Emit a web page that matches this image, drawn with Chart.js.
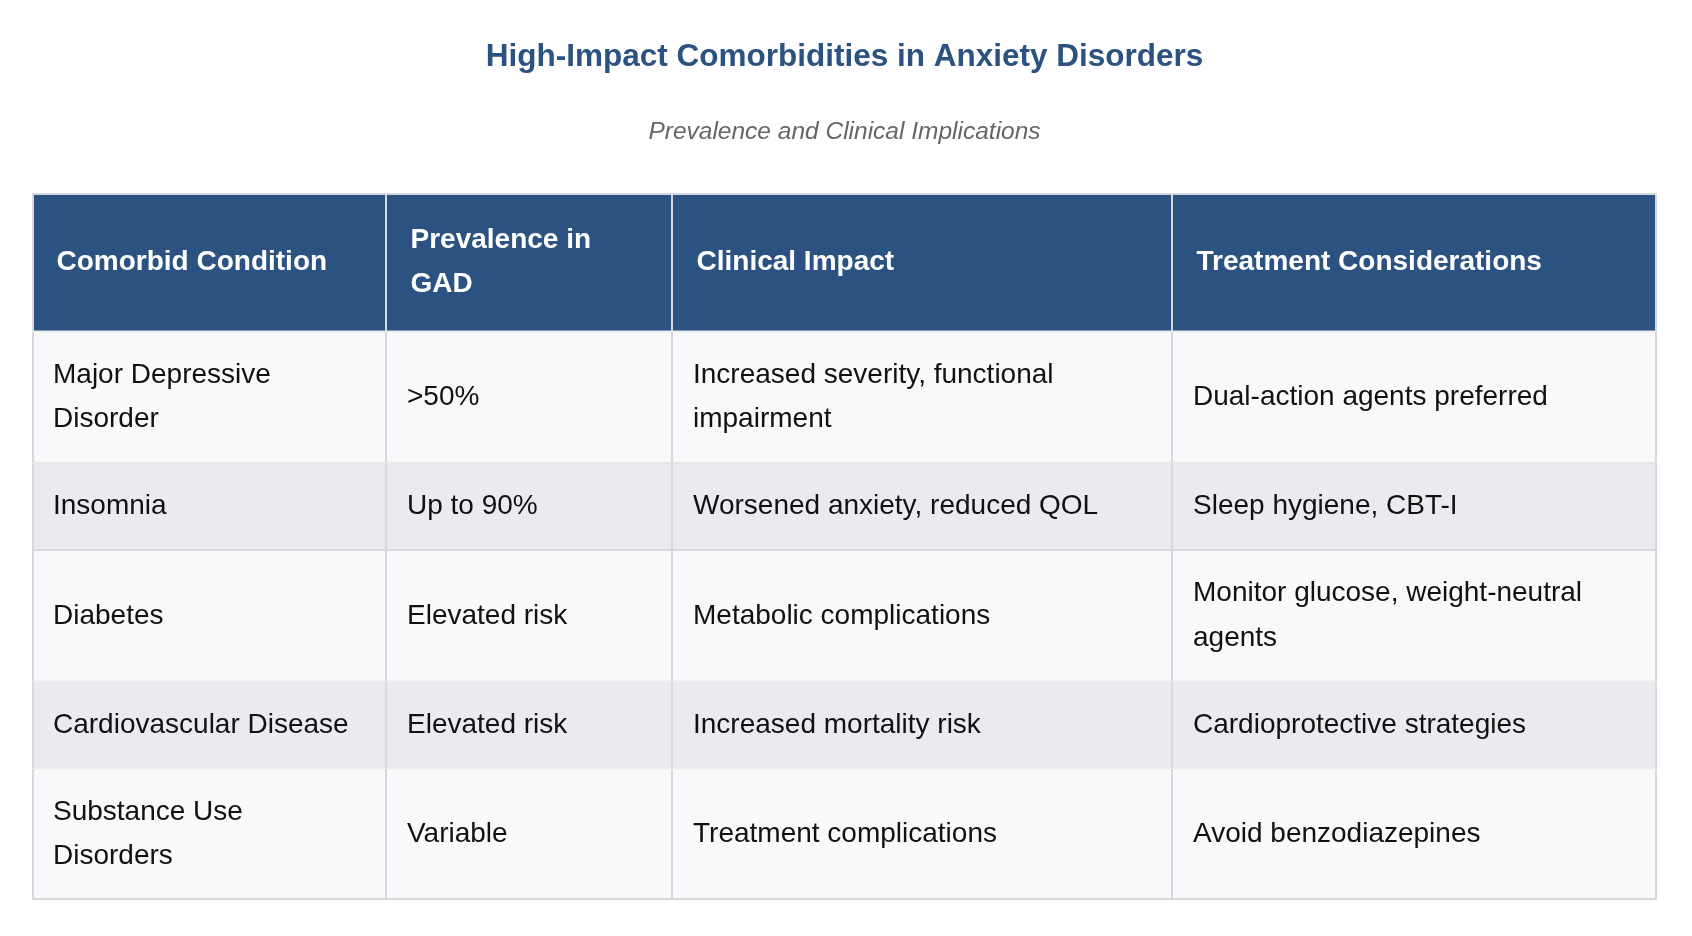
<!DOCTYPE html>
<html>
<head>
<meta charset="utf-8">
<title>High-Impact Comorbidities in Anxiety Disorders</title>
<script src="https://cdn.jsdelivr.net/npm/chart.js@4.4.1/dist/chart.umd.min.js"></script>
<style>
    html, body { margin: 0; padding: 0; background: #ffffff; }
    #wrap { width: 1692px; height: 936px; position: relative; }
</style>
</head>
<body>
<div id="wrap"><canvas id="comorbidityTable"></canvas></div>
<script>
// ==========================================
// Table content
// ==========================================
const headers = ['Comorbid Condition', 'Prevalence in GAD', 'Clinical Impact', 'Treatment Considerations'];
const conditions = ['Major Depressive Disorder', 'Insomnia', 'Diabetes', 'Cardiovascular Disease', 'Substance Use Disorders'];
const prevalence = ['>50%', 'Up to 90%', 'Elevated risk', 'Elevated risk', 'Variable'];
const clinicalImpact = [
    'Increased severity, functional impairment',
    'Worsened anxiety, reduced QOL',
    'Metabolic complications',
    'Increased mortality risk',
    'Treatment complications'
];
const treatment = [
    'Dual-action agents preferred',
    'Sleep hygiene, CBT-I',
    'Monitor glucose, weight-neutral agents',
    'Cardioprotective strategies',
    'Avoid benzodiazepines'
];

// ==========================================
// Layout / style
// ==========================================
const FONT = "'Liberation Sans', Arial, Helvetica, sans-serif";
const COL_WIDTHS = [354, 286, 500, 485];
const BODY_SIZE = 28;
const LINE_H = 44.6;
const HEAD_PAD = 24.5;
const CELL_PAD = 21;
const HEAD_BG = '#2c5282';
const ODD_BG = '#f7f9fb';
const EVEN_BG = '#e9ebef';
const GRID_COLOR = '#d6d8dc';

const rows = [headers].concat(conditions.map((c, i) => [c, prevalence[i], clinicalImpact[i], treatment[i]]));

const colEdges = [0];
COL_WIDTHS.forEach(w => colEdges.push(colEdges[colEdges.length - 1] + w));

function cellFont(r) {
    return (r === 0 ? 'bold ' : '') + BODY_SIZE + 'px ' + FONT;
}

// Wrap text the way a table cell would
const measureCtx = document.createElement('canvas').getContext('2d');
function wrapText(text, font, maxWidth) {
    measureCtx.font = font;
    const words = text.split(' ');
    const lines = [];
    let line = '';
    words.forEach(w => {
        const test = line ? line + ' ' + w : w;
        if (line && measureCtx.measureText(test).width > maxWidth) {
            lines.push(line);
            line = w;
        } else {
            line = test;
        }
    });
    if (line) lines.push(line);
    return lines;
}

const cellLines = rows.map((cells, r) => {
    const pad = r === 0 ? HEAD_PAD : CELL_PAD;
    return cells.map((txt, c) => wrapText(txt, cellFont(r), COL_WIDTHS[c] - 2 * pad));
});

// Row extents on the y scale
const rowHeights = cellLines.map((lines, r) => {
    const pad = r === 0 ? HEAD_PAD : CELL_PAD;
    const n = Math.max(...lines.map(l => l.length));
    return n * LINE_H + 2 * pad;
});
const rowCenters = [];
let acc = 0;
rowHeights.forEach(h => { rowCenters.push(acc + h / 2); acc += h; });
const tableHeight = acc;

// ==========================================
// Cell text plugin
// ==========================================
const cellTextPlugin = {
    id: 'cellText',
    afterDatasetsDraw(chart) {
        const ctx = chart.ctx;
        const yScale = chart.scales.y;
        const unitPx = Math.abs(yScale.getPixelForValue(1) - yScale.getPixelForValue(0));
        const lineH = LINE_H * unitPx;
        ctx.save();
        ctx.textBaseline = 'middle';
        ctx.textAlign = 'left';
        chart.data.datasets.forEach((ds, r) => {
            const meta = chart.getDatasetMeta(r);
            const pad = r === 0 ? HEAD_PAD : CELL_PAD;
            ctx.font = cellFont(r);
            ctx.fillStyle = r === 0 ? '#ffffff' : '#111111';
            meta.data.forEach((bar, c) => {
                const props = bar.getProps(['x', 'y', 'base'], true);
                const left = Math.min(props.x, props.base);
                const lines = cellLines[r][c];
                const firstY = props.y - (lines.length - 1) * lineH / 2;
                lines.forEach((line, i) => {
                    ctx.fillText(line, left + pad, firstY + i * lineH);
                });
            });
        });
        ctx.restore();
    }
};

// ==========================================
// Chart
// ==========================================
const lastRow = rows.length - 1;
const lastCol = headers.length - 1;

new Chart(document.getElementById('comorbidityTable'), {
    type: 'bar',
    data: {
        datasets: rows.map((cells, r) => ({
            label: r === 0 ? 'Header' : conditions[r - 1],
            data: cells.map((txt, c) => ({ x: [colEdges[c], colEdges[c + 1]], y: rowCenters[r] })),
            backgroundColor: r === 0 ? HEAD_BG : (r % 2 === 1 ? ODD_BG : EVEN_BG),
            borderColor: GRID_COLOR,
            borderWidth: (ctx) => ({
                top: ctx.datasetIndex === 0 ? 2 : 1,
                bottom: ctx.datasetIndex === lastRow ? 2 : 1,
                left: ctx.dataIndex === 0 ? 2 : 1,
                right: ctx.dataIndex === lastCol ? 2 : 1
            }),
            borderSkipped: false,
            inflateAmount: 0,
            grouped: false,
            categoryPercentage: 1,
            // thickness in y units: the unit tick gap below is 1
            barPercentage: rowHeights[r]
        }))
    },
    options: {
        indexAxis: 'y',
        responsive: true,
        maintainAspectRatio: false,
        animation: false,
        layout: {
            padding: { left: 32, right: 35, top: 0, bottom: 36 }
        },
        plugins: {
            legend: { display: false },
            tooltip: { enabled: false },
            title: {
                display: true,
                text: 'High-Impact Comorbidities in Anxiety Disorders',
                color: '#2c5282',
                font: { family: FONT, size: 31.5, weight: 'bold', lineHeight: 1.2 },
                padding: { top: 38.1, bottom: 20 }
            },
            subtitle: {
                display: true,
                text: 'Prevalence and Clinical Implications',
                color: '#666666',
                font: { family: FONT, size: 24.5, style: 'italic', weight: 'normal', lineHeight: 1.2 },
                padding: { top: 21.4, bottom: 46.3 }
            }
        },
        scales: {
            x: {
                type: 'linear',
                min: 0,
                max: colEdges[colEdges.length - 1],
                offset: false,
                display: false,
                grid: { display: false }
            },
            y: {
                type: 'linear',
                reverse: true,
                min: 0,
                max: tableHeight,
                offset: false,
                display: false,
                grid: { display: false },
                // one-unit tick gap so bar thickness follows the row height
                afterBuildTicks: (scale) => {
                    scale.ticks = [{ value: 0 }, { value: 1 }];
                }
            }
        }
    },
    plugins: [cellTextPlugin]
});
</script>
</body>
</html>
